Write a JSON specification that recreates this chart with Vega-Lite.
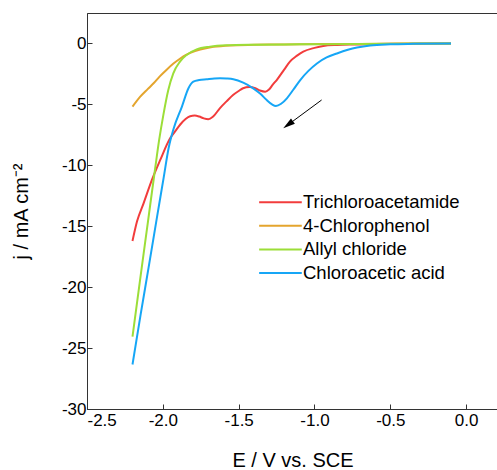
{
  "$schema": "https://vega.github.io/schema/vega-lite/v6.json",
  "width": 411,
  "height": 396,
  "autosize": {"type": "none"},
  "padding": {"left": 87, "top": 13, "right": 0, "bottom": 61},
  "config": {
    "locale": {"number": {"decimal": ".", "thousands": ",", "grouping": [3], "currency": ["$", ""], "minus": "-"}},
    "view": {"stroke": "#333", "strokeWidth": 1},
    "font": "Liberation Sans",
    "axis": {
      "grid": false,
      "domainColor": "#333",
      "tickColor": "#333",
      "labelColor": "#000",
      "titleColor": "#000",
      "labelFont": "Liberation Sans",
      "titleFont": "Liberation Sans",
      "labelFontSize": 17,
      "titleFontSize": 20,
      "titleFontWeight": "normal",
      "tickSize": -5
    }
  },
  "datasets": {
    "cv": [
      {"series": "Trichloroacetamide", "E": -2.2, "j": -16.21},
      {"series": "Trichloroacetamide", "E": -2.17, "j": -14.6},
      {"series": "Trichloroacetamide", "E": -2.127, "j": -13.12},
      {"series": "Trichloroacetamide", "E": -2.072, "j": -11.2},
      {"series": "Trichloroacetamide", "E": -2.017, "j": -9.56},
      {"series": "Trichloroacetamide", "E": -1.952, "j": -7.78},
      {"series": "Trichloroacetamide", "E": -1.918, "j": -7.2},
      {"series": "Trichloroacetamide", "E": -1.885, "j": -6.65},
      {"series": "Trichloroacetamide", "E": -1.85, "j": -6.2},
      {"series": "Trichloroacetamide", "E": -1.82, "j": -5.97},
      {"series": "Trichloroacetamide", "E": -1.79, "j": -5.92},
      {"series": "Trichloroacetamide", "E": -1.76, "j": -6.0},
      {"series": "Trichloroacetamide", "E": -1.73, "j": -6.15},
      {"series": "Trichloroacetamide", "E": -1.7, "j": -6.22},
      {"series": "Trichloroacetamide", "E": -1.67, "j": -6.02},
      {"series": "Trichloroacetamide", "E": -1.623, "j": -5.3},
      {"series": "Trichloroacetamide", "E": -1.58, "j": -4.75},
      {"series": "Trichloroacetamide", "E": -1.537, "j": -4.23},
      {"series": "Trichloroacetamide", "E": -1.5, "j": -3.9},
      {"series": "Trichloroacetamide", "E": -1.471, "j": -3.68},
      {"series": "Trichloroacetamide", "E": -1.43, "j": -3.58},
      {"series": "Trichloroacetamide", "E": -1.39, "j": -3.68},
      {"series": "Trichloroacetamide", "E": -1.36, "j": -3.86},
      {"series": "Trichloroacetamide", "E": -1.325, "j": -3.96},
      {"series": "Trichloroacetamide", "E": -1.3, "j": -3.78},
      {"series": "Trichloroacetamide", "E": -1.275, "j": -3.38},
      {"series": "Trichloroacetamide", "E": -1.249, "j": -3.0},
      {"series": "Trichloroacetamide", "E": -1.2, "j": -2.15},
      {"series": "Trichloroacetamide", "E": -1.162, "j": -1.49},
      {"series": "Trichloroacetamide", "E": -1.115, "j": -1.0},
      {"series": "Trichloroacetamide", "E": -1.074, "j": -0.67},
      {"series": "Trichloroacetamide", "E": -1.0, "j": -0.36},
      {"series": "Trichloroacetamide", "E": -0.942, "j": -0.2},
      {"series": "Trichloroacetamide", "E": -0.85, "j": -0.12},
      {"series": "Trichloroacetamide", "E": -0.75, "j": -0.08},
      {"series": "Trichloroacetamide", "E": -0.6, "j": -0.05},
      {"series": "Trichloroacetamide", "E": -0.4, "j": -0.02},
      {"series": "Trichloroacetamide", "E": -0.1, "j": 0.0},

      {"series": "4-Chlorophenol", "E": -2.2, "j": -5.19},
      {"series": "4-Chlorophenol", "E": -2.149, "j": -4.37},
      {"series": "4-Chlorophenol", "E": -2.1, "j": -3.75},
      {"series": "4-Chlorophenol", "E": -2.061, "j": -3.27},
      {"series": "4-Chlorophenol", "E": -2.02, "j": -2.7},
      {"series": "4-Chlorophenol", "E": -1.973, "j": -2.13},
      {"series": "4-Chlorophenol", "E": -1.93, "j": -1.65},
      {"series": "4-Chlorophenol", "E": -1.885, "j": -1.23},
      {"series": "4-Chlorophenol", "E": -1.85, "j": -0.95},
      {"series": "4-Chlorophenol", "E": -1.819, "j": -0.77},
      {"series": "4-Chlorophenol", "E": -1.753, "j": -0.49},
      {"series": "4-Chlorophenol", "E": -1.7, "j": -0.35},
      {"series": "4-Chlorophenol", "E": -1.666, "j": -0.28},
      {"series": "4-Chlorophenol", "E": -1.556, "j": -0.16},
      {"series": "4-Chlorophenol", "E": -1.4, "j": -0.11},
      {"series": "4-Chlorophenol", "E": -1.2, "j": -0.08},
      {"series": "4-Chlorophenol", "E": -0.9, "j": -0.05},
      {"series": "4-Chlorophenol", "E": -0.5, "j": -0.02},
      {"series": "4-Chlorophenol", "E": -0.1, "j": 0.0},

      {"series": "Allyl chloride", "E": -2.2, "j": -24.06},
      {"series": "Allyl chloride", "E": -2.15, "j": -19.4},
      {"series": "Allyl chloride", "E": -2.1, "j": -14.8},
      {"series": "Allyl chloride", "E": -2.05, "j": -10.2},
      {"series": "Allyl chloride", "E": -2.024, "j": -7.9},
      {"series": "Allyl chloride", "E": -1.997, "j": -5.9},
      {"series": "Allyl chloride", "E": -1.964, "j": -3.82},
      {"series": "Allyl chloride", "E": -1.931, "j": -2.45},
      {"series": "Allyl chloride", "E": -1.887, "j": -1.49},
      {"series": "Allyl chloride", "E": -1.843, "j": -0.94},
      {"series": "Allyl chloride", "E": -1.777, "j": -0.48},
      {"series": "Allyl chloride", "E": -1.689, "j": -0.26},
      {"series": "Allyl chloride", "E": -1.579, "j": -0.15},
      {"series": "Allyl chloride", "E": -1.4, "j": -0.1},
      {"series": "Allyl chloride", "E": -1.1, "j": -0.07},
      {"series": "Allyl chloride", "E": -0.7, "j": -0.04},
      {"series": "Allyl chloride", "E": -0.3, "j": -0.01},
      {"series": "Allyl chloride", "E": -0.1, "j": 0.0},

      {"series": "Chloroacetic acid", "E": -2.2, "j": -26.35},
      {"series": "Chloroacetic acid", "E": -2.147, "j": -22.3},
      {"series": "Chloroacetic acid", "E": -2.094, "j": -18.4},
      {"series": "Chloroacetic acid", "E": -2.039, "j": -14.29},
      {"series": "Chloroacetic acid", "E": -1.995, "j": -11.05},
      {"series": "Chloroacetic acid", "E": -1.962, "j": -8.6},
      {"series": "Chloroacetic acid", "E": -1.929, "j": -7.0},
      {"series": "Chloroacetic acid", "E": -1.874, "j": -5.18},
      {"series": "Chloroacetic acid", "E": -1.831, "j": -3.68},
      {"series": "Chloroacetic acid", "E": -1.799, "j": -3.14},
      {"series": "Chloroacetic acid", "E": -1.76, "j": -3.0},
      {"series": "Chloroacetic acid", "E": -1.711, "j": -2.94},
      {"series": "Chloroacetic acid", "E": -1.66, "j": -2.88},
      {"series": "Chloroacetic acid", "E": -1.623, "j": -2.86},
      {"series": "Chloroacetic acid", "E": -1.58, "j": -2.88},
      {"series": "Chloroacetic acid", "E": -1.535, "j": -2.94},
      {"series": "Chloroacetic acid", "E": -1.47, "j": -3.22},
      {"series": "Chloroacetic acid", "E": -1.404, "j": -3.68},
      {"series": "Chloroacetic acid", "E": -1.355, "j": -4.15},
      {"series": "Chloroacetic acid", "E": -1.315, "j": -4.64},
      {"series": "Chloroacetic acid", "E": -1.28, "j": -5.0},
      {"series": "Chloroacetic acid", "E": -1.254, "j": -5.13},
      {"series": "Chloroacetic acid", "E": -1.22, "j": -4.95},
      {"series": "Chloroacetic acid", "E": -1.182, "j": -4.5},
      {"series": "Chloroacetic acid", "E": -1.14, "j": -3.8},
      {"series": "Chloroacetic acid", "E": -1.094, "j": -3.0},
      {"series": "Chloroacetic acid", "E": -1.04, "j": -2.25},
      {"series": "Chloroacetic acid", "E": -0.984, "j": -1.64},
      {"series": "Chloroacetic acid", "E": -0.92, "j": -1.15},
      {"series": "Chloroacetic acid", "E": -0.852, "j": -0.82},
      {"series": "Chloroacetic acid", "E": -0.78, "j": -0.52},
      {"series": "Chloroacetic acid", "E": -0.72, "j": -0.33},
      {"series": "Chloroacetic acid", "E": -0.633, "j": -0.16},
      {"series": "Chloroacetic acid", "E": -0.5, "j": -0.07},
      {"series": "Chloroacetic acid", "E": -0.35, "j": -0.03},
      {"series": "Chloroacetic acid", "E": -0.1, "j": 0.0}
    ],
    "arrow": [
      {"E": -0.953, "j": -4.64, "E2": -1.174, "j2": -6.67, "ang": 233.6}
    ]
  },
  "encoding": {
    "x": {
      "field": "E",
      "type": "quantitative",
      "scale": {"domain": [-2.5, 0.21], "nice": false, "zero": false},
      "axis": {
        "values": [-2.5, -2.0, -1.5, -1.0, -0.5, 0.0],
        "format": ".1f",
        "title": "E / V vs. SCE",
        "labelPadding": 8,
        "titlePadding": 22
      }
    },
    "y": {
      "field": "j",
      "type": "quantitative",
      "scale": {"domain": [-30, 2.5], "nice": false, "zero": false},
      "axis": {
        "values": [-30, -25, -20, -15, -10, -5, 0],
        "format": "d",
        "title": "j / mA cm⁻²",
        "labelPadding": 6,
        "titlePadding": 30
      }
    }
  },
  "layer": [
    {
      "data": {"name": "cv"},
      "mark": {"type": "line", "strokeWidth": 2, "interpolate": "monotone"},
      "encoding": {
        "color": {
          "field": "series",
          "type": "nominal",
          "scale": {
            "domain": ["Trichloroacetamide", "4-Chlorophenol", "Allyl chloride", "Chloroacetic acid"],
            "range": ["#F23C3C", "#E4A52E", "#9CDE38", "#16A6F6"]
          },
          "legend": {
            "orient": "none",
            "legendX": 170,
            "legendY": 180,
            "title": null,
            "padding": 0,
            "symbolType": "M-1,0L5,0",
            "symbolSize": 202,
            "symbolStrokeWidth": 2,
            "labelFont": "Liberation Sans",
            "labelFontSize": 18.5,
            "labelColor": "#000",
            "labelOffset": 27.5,
            "rowPadding": 4.6
          }
        }
      }
    },
    {
      "data": {"name": "arrow"},
      "mark": {"type": "rule", "color": "#000", "strokeWidth": 1},
      "encoding": {
        "x2": {"field": "E2"},
        "y2": {"field": "j2"}
      }
    },
    {
      "data": {"name": "arrow"},
      "mark": {"type": "point", "shape": "M0,-1L-0.55,1L0.55,1Z", "filled": true, "color": "#000", "size": 144, "opacity": 1},
      "encoding": {
        "x": {"field": "E2", "type": "quantitative"},
        "y": {"field": "j2", "type": "quantitative"},
        "angle": {"field": "ang", "type": "quantitative", "scale": null}
      }
    }
  ]
}
